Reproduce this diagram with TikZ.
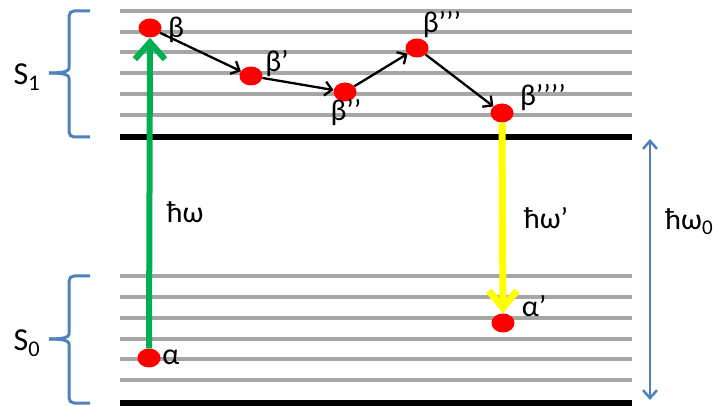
\documentclass[tikz,border=0pt]{standalone}
\usepackage{fontspec}
\setmainfont{Carlito}
\usetikzlibrary{arrows.meta, shapes.geometric}
\definecolor{levelgray}{RGB}{166,166,166}
\definecolor{pumpgreen}{RGB}{0,176,80}
\definecolor{bracketblue}{RGB}{79,129,189}
\definecolor{emityellow}{RGB}{255,255,0}

\begin{document}
\begin{tikzpicture}[x=1pt, y=-1pt,
				dot/.style={ellipse, fill=red, minimum width=23pt, minimum height=19pt, inner sep=0pt},
				lbl/.style={inner sep=0pt, font=\fontsize{30}{34}\selectfont},
				statelbl/.style={inner sep=0pt, font=\fontsize{32}{36}\selectfont},
				level/.style={draw=levelgray, line width=3.5pt},
				ground/.style={draw=black, line width=5.5pt},
				hop/.style={draw, line width=2.3pt, -{Straight Barb[length=7pt, width=14pt]}},
				brc/.style={draw=bracketblue, line width=3pt, rounded corners=5pt},
				]
				\useasboundingbox (0,0) rectangle (713,406);
				
				%% ── Energy levels ─────────────────────────────────────────────────────
				\foreach \y in {11,32,52,73,94,115,276,297,318,339,359,380}
				\draw[level] (120,\y) -- (632,\y);
				\draw[ground] (120,137) -- (632,137);
				\draw[ground] (120,403) -- (632,403);
				
				%% ── Braces and state labels ───────────────────────────────────────────
				\draw[brc] (90,11) -- (69,11) -- (69,63) .. controls (69,71) and (65,73) .. (49,73);
				\draw[brc] (90,137) -- (69,137) -- (69,83) .. controls (69,75) and (65,73) .. (49,73);
				\draw[brc] (90,276) -- (69,276) -- (69,329) .. controls (69,337) and (65,339) .. (49,339);
				\draw[brc] (90,403) -- (69,403) -- (69,349) .. controls (69,341) and (65,339) .. (49,339);
				\node[statelbl] (s1) at (27,77) {S\textsubscript{1}};
				\node[statelbl] (s0) at (27,343) {S\textsubscript{0}};
				
				%% ── States ────────────────────────────────────────────────────────────
				\node[dot] (b0) at (150,28)  {};
				\node[dot] (b1) at (251,76)  {};
				\node[dot] (b2) at (345,92)  {};
				\node[dot] (b3) at (417,48)  {};
				\node[dot] (b4) at (502,113) {};
				\node[dot] (a0) at (149,358) {};
				\node[dot] (a1) at (503,323) {};
				
				\node[lbl] at (176,30)  {β};
				\node[lbl] at (277,64)  {β’};
				\node[lbl] at (346,113) {β’’};
				\node[lbl] at (442,25)  {β’’’};
				\node[lbl] at (543,98)  {β’’’’};
				\node[lbl] at (171,357) {α};
				\node[lbl] at (534,306) {α’};
				
				%% ── Transitions ───────────────────────────────────────────────────────
				\draw[hop] (b0) -- (b1);
				\draw[hop] (b1) -- (b2);
				\draw[hop] (b2) -- (b3);
				\draw[hop] (b3) -- (b4);
				
				\draw[pumpgreen, line width=6pt, -{Straight Barb[length=17pt, width=30pt]}]
				(a0.north) -- (b0.south);
				\draw[emityellow, line width=7pt, -{Straight Barb[length=17pt, width=28pt]}]
				(b4.south) -- (a1.north);
				\node[lbl] at (185,212) {ħω};
				\node[lbl] at (546,218) {ħω’};
				
				%% ── Gap ───────────────────────────────────────────────────────────────
				\coordinate (gaptop) at (650,139);
				\coordinate (gapbot) at (650,400);
				\draw[bracketblue, line width=2.5pt, {Straight Barb[length=8pt, width=14pt]}-{Straight Barb[length=8pt, width=14pt]}]
				(gaptop) -- (gapbot);
				\node[lbl, anchor=west] at (665,222) {ħω\textsubscript{0}};
				
			\end{tikzpicture}
\end{document}
